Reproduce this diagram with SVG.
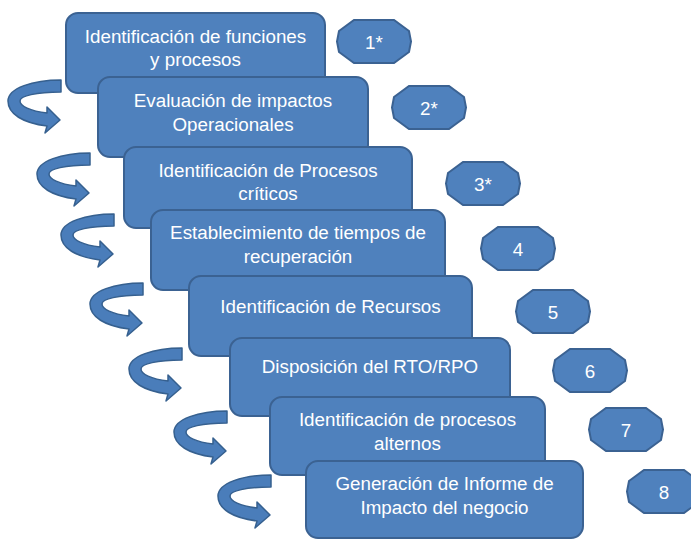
<svg xmlns="http://www.w3.org/2000/svg" xmlns:xlink="http://www.w3.org/1999/xlink" width="691" height="539" viewBox="0 0 691 539">
<style>
.box{fill:#4f81bd;stroke:#3b6292;stroke-width:2}
.oct{fill:#4f81bd;stroke:#3b6292;stroke-width:2}
.t{font-family:"Liberation Sans",Arial,sans-serif;font-size:18.8px;fill:#ffffff;text-anchor:middle}
.arr{fill:#4a7dba;stroke:#36608f;stroke-width:1.5;stroke-linejoin:round}
</style>
<defs>
<path id="ca" class="arr" d="M 0,0 C -28,0 -53,8 -53,21 C -53,34 -38,43 -14,46 L -16,53 L -1,40 L -14,27 L -14,33 C -31,31 -41,26 -41,21 C -41,16 -25,12 0,12 Z"/>
<polygon id="octo" class="oct" points="17,0 57,0 72,11 74,21.5 72,32 57,43 17,43 2,32 0,21.5 2,11"/>
</defs>
<rect width="691" height="539" fill="#ffffff"/>
<g id="connectors">
<use xlink:href="#ca" transform="translate(61,80)"/>
<use xlink:href="#ca" transform="translate(90,153)"/>
<use xlink:href="#ca" transform="translate(114,214)"/>
<use xlink:href="#ca" transform="translate(143,283)"/>
<use xlink:href="#ca" transform="translate(182,348)"/>
<use xlink:href="#ca" transform="translate(227,411)"/>
<use xlink:href="#ca" transform="translate(271,475)"/>
</g>
<g id="step1">
<rect class="box" x="66" y="13" width="259" height="80" rx="12"/>
<text class="t" x="195.5" y="42.5">Identificación de funciones</text>
<text class="t" x="195.5" y="66">y procesos</text>
</g>
<g id="step2">
<rect class="box" x="98" y="77" width="270" height="80" rx="12"/>
<text class="t" x="233" y="107">Evaluación de impactos</text>
<text class="t" x="233" y="131">Operacionales</text>
</g>
<g id="step3">
<rect class="box" x="124" y="147" width="288" height="81" rx="12"/>
<text class="t" x="268" y="176.5">Identificación de Procesos</text>
<text class="t" x="268" y="200">críticos</text>
</g>
<g id="step4">
<rect class="box" x="151" y="210" width="294" height="80" rx="12"/>
<text class="t" x="298" y="239">Establecimiento de tiempos de</text>
<text class="t" x="298" y="262.5">recuperación</text>
</g>
<g id="step5">
<rect class="box" x="189" y="276" width="283" height="80" rx="12"/>
<text class="t" x="330.5" y="313">Identificación de Recursos</text>
</g>
<g id="step6">
<rect class="box" x="230" y="338" width="280" height="78" rx="12"/>
<text class="t" x="370" y="373">Disposición del RTO/RPO</text>
</g>
<g id="step7">
<rect class="box" x="270" y="397" width="275" height="78" rx="12"/>
<text class="t" x="407.5" y="426">Identificación de procesos</text>
<text class="t" x="407.5" y="450">alternos</text>
</g>
<g id="step8">
<rect class="box" x="306" y="461" width="277" height="77" rx="12"/>
<text class="t" x="444.5" y="490">Generación de Informe de</text>
<text class="t" x="444.5" y="513.5">Impacto del negocio</text>
</g>
<g id="n1"><use xlink:href="#octo" transform="translate(337,20)"/><text class="t" x="374" y="48.5">1*</text></g>
<g id="n2"><use xlink:href="#octo" transform="translate(392,86)"/><text class="t" x="429" y="114.5">2*</text></g>
<g id="n3"><use xlink:href="#octo" transform="translate(446,162)"/><text class="t" x="483" y="190.5">3*</text></g>
<g id="n4"><use xlink:href="#octo" transform="translate(481,227)"/><text class="t" x="518" y="255.5">4</text></g>
<g id="n5"><use xlink:href="#octo" transform="translate(516,290)"/><text class="t" x="553" y="318.5">5</text></g>
<g id="n6"><use xlink:href="#octo" transform="translate(553,349)"/><text class="t" x="590" y="377.5">6</text></g>
<g id="n7"><use xlink:href="#octo" transform="translate(589,408)"/><text class="t" x="626" y="436.5">7</text></g>
<g id="n8"><use xlink:href="#octo" transform="translate(627,470)"/><text class="t" x="664" y="498.5">8</text></g>
</svg>
